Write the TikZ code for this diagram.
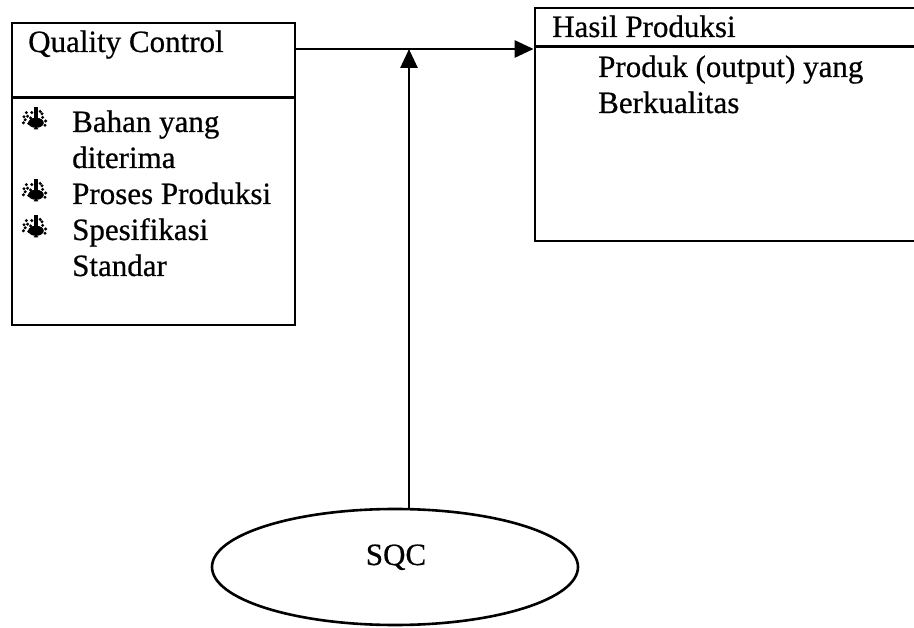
\documentclass[tikz,border=0pt]{standalone}
\usepackage{fontspec}
\setmainfont{Liberation Serif}
\usetikzlibrary{arrows.meta,calc,shapes.geometric}

\newcommand\diagfont{\fontsize{31}{36}\selectfont\addfontfeatures{FakeBold=0.6}}

\tikzset{
  box/.style={draw, line width=2.8pt, rectangle, inner sep=0pt},
  label/.style={anchor=base west, inner sep=0pt, font=\diagfont},
  link/.style={line width=2.8pt, -{Triangle[length=19pt,width=17pt]}},
  splash/.pic={
    \begin{scope}[scale=1.2]
    \fill (-1.8,-17) rectangle (1.8,-4);
    \fill (0,-3.5) ellipse [x radius=6.5, y radius=4.2];
    \fill (0,-1) -- (-2,2) -- (2,2) -- cycle;
    \foreach \p in {(-9,-6),(-7,-9),(-10.5,-3.5),(-6,-3),(5.5,-8),(8,-5),(-3.5,-12),(3.5,-13),(-8,-12),(7.5,-1.5),(-10,-8.5),(-4.5,-7.5),(5,-11)}
      \fill \p circle (1.4);
    \end{scope}
  }
}

\begin{document}
\begin{tikzpicture}[x=1pt,y=-1pt]
  \useasboundingbox (0,0) rectangle (914,628);

  % quality control box with its header
  \node[box, minimum width=283pt, minimum height=302pt] (qc) at (153.5,174) {};
  \draw[line width=2.8pt] ($(qc.north west)+(0,76)$) -- ($(qc.north east)+(0,76)$);
  \node[label] (qct) at (28,52) {Quality Control};
  \pic at (36,127) {splash};
  \node[label] (i1) at (72,132) {Bahan yang};
  \node[label] (i1b) at (72,168) {diterima};
  \pic at (36,199) {splash};
  \node[label] (i2) at (72,204) {Proses Produksi};
  \pic at (36,235) {splash};
  \node[label] (i3) at (72,240) {Spesifikasi};
  \node[label] (i3b) at (72,276) {Standar};

  % production result box
  \node[box, minimum width=380pt, minimum height=233pt] (hp) at (725,124.5) {};
  \draw[line width=2.8pt] ($(hp.north west)+(0,40)$) -- ($(hp.north east)+(0,40)$);
  \node[label] (hpt) at (552,37) {Hasil Produksi};
  \node[label] (o1) at (598,77) {Produk (output) yang};
  \node[label] (o1b) at (598,113) {Berkualitas};

  % SQC ellipse
  \node[draw, line width=2.6pt, ellipse, minimum width=366pt, minimum height=116pt, inner sep=0pt] (sqc) at (395,567) {};
  \node[anchor=base, inner sep=0pt, font=\diagfont] (sqct) at (396,565) {SQC};

  % connectors
  \coordinate (join) at (409,49);
  \draw[link] (qc.east |- join) -- (hp.west |- join);
  \draw[link] (sqc.north -| join) -- (join);
\end{tikzpicture}
\end{document}
